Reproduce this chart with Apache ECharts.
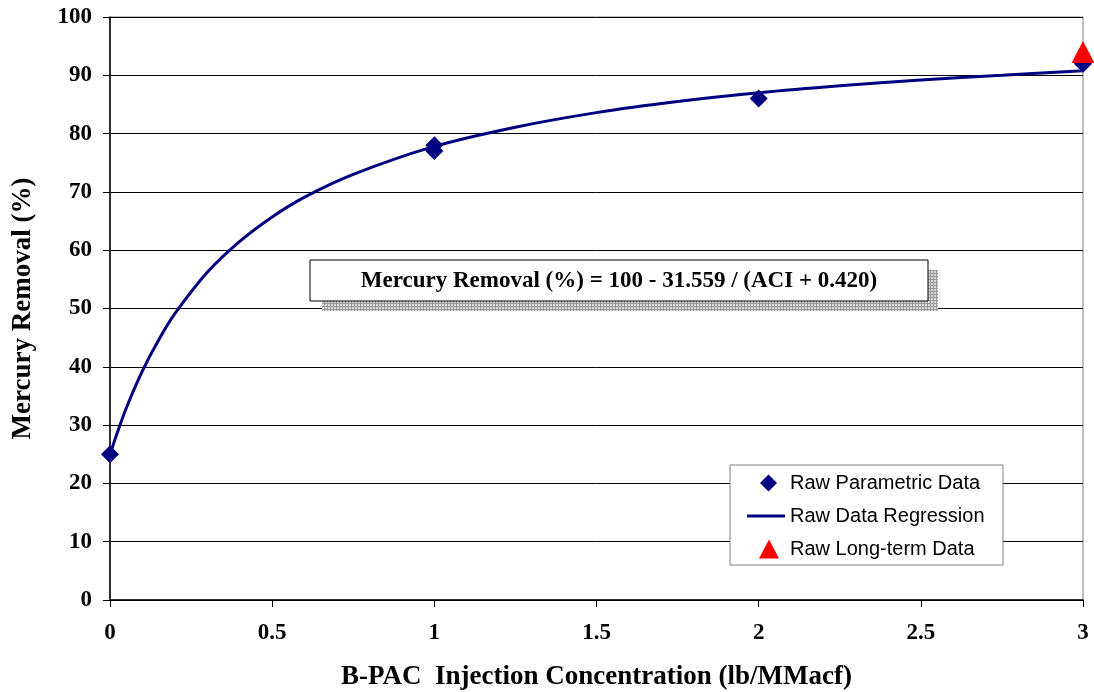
<!DOCTYPE html>
<html>
<head>
<meta charset="utf-8">
<script src="https://cdn.jsdelivr.net/npm/echarts@6/dist/echarts.min.js"></script>
<style>
  html, body { margin: 0; padding: 0; background: #fff; }
  #chart { width: 1094px; height: 692px; }
</style>
</head>
<body>
<div id="chart"></div>
<script>
// Parametric test points: [injection concentration, removal %]
const parametricData = [[0, 25], [1, 77], [1, 78], [2, 86], [3, 92]];
// Long-term test point
const longTermData = [[3, 94]];
// Regression curve, sampled along its drawn path
const regressionX = [0, 0.02, 0.05, 0.1, 0.15, 0.2, 0.3, 0.4, 0.5, 0.6, 0.75, 1, 1.25, 1.5, 1.75, 2, 2.25, 2.5, 2.75, 3];
const regressionY = [24.9, 28.3, 32.9, 39.3, 44.6, 49.1, 56.2, 61.5, 65.7, 69.1, 73.0, 77.8, 81.1, 83.6, 85.5, 87.0, 88.2, 89.2, 90.0, 90.8];
const xTicks = [0, 0.5, 1, 1.5, 2, 2.5, 3];
const yTicks = [0, 10, 20, 30, 40, 50, 60, 70, 80, 90, 100];
const equationText = 'Mercury Removal (%) = 100 - 31.559 / (ACI + 0.420)';
const seriesNames = ['Raw Parametric Data', 'Raw Data Regression', 'Raw Long-term Data'];

const regressionData = regressionX.map((x, i) => [x, regressionY[i]]);

// small cross-hatch tile for the equation box shadow
const tile = document.createElement('canvas');
tile.width = 3; tile.height = 3;
const tctx = tile.getContext('2d');
tctx.fillStyle = '#d8d8d8';
tctx.fillRect(0, 0, 3, 3);
tctx.fillStyle = '#9a9a9a';
tctx.fillRect(0, 0, 3, 1);
tctx.fillRect(0, 0, 1, 3);

const serif = '"Liberation Serif", "Times New Roman", serif';
const sans = '"Liberation Sans", Arial, sans-serif';
const navy = '#000080';

// one legend entry per component so each icon keeps its own size
function legendEntry(name, left, top, icon, w, h, textPadLeft) {
  return {
    orient: 'vertical',
    left: left, top: top,
    padding: 0,
    itemWidth: w, itemHeight: h,
    icon: icon,
    textStyle: { fontFamily: sans, fontSize: 20, color: '#000', padding: [0, 0, 0, textPadLeft] },
    data: [name],
    z: 20
  };
}

const chart = echarts.init(document.getElementById('chart'));
chart.setOption({
  animation: false,
  backgroundColor: '#ffffff',
  grid: {
    left: 110, right: 11, top: 17, bottom: 92,
    outerBoundsMode: 'none',
    containLabel: false,
    show: true, borderColor: '#808080', borderWidth: 1, backgroundColor: 'transparent'
  },
  xAxis: {
    type: 'value',
    min: xTicks[0], max: xTicks[xTicks.length - 1], interval: 0.5,
    name: 'B-PAC  Injection Concentration (lb/MMacf)',
    nameLocation: 'middle', nameGap: 64,
    nameTextStyle: { fontFamily: serif, fontWeight: 'bold', fontSize: 27, color: '#000' },
    axisLine: { show: true, lineStyle: { color: '#000', width: 1.5 } },
    axisTick: { show: true, inside: false, length: 7, lineStyle: { color: '#000' } },
    axisLabel: { margin: 22, fontFamily: serif, fontWeight: 'bold', fontSize: 23, color: '#000',
      formatter: v => String(v) },
    splitLine: { show: false }
  },
  yAxis: {
    type: 'value',
    min: yTicks[0], max: yTicks[yTicks.length - 1], interval: 10,
    name: 'Mercury Removal (%)',
    nameLocation: 'middle', nameGap: 73, nameRotate: 90,
    nameTextStyle: { fontFamily: serif, fontWeight: 'bold', fontSize: 27, color: '#000' },
    axisLine: { show: true, lineStyle: { color: '#000', width: 1.5 } },
    axisTick: { show: true, inside: false, length: 7, lineStyle: { color: '#000' } },
    axisLabel: { margin: 18, fontFamily: serif, fontWeight: 'bold', fontSize: 23, color: '#000' },
    splitLine: { show: true, lineStyle: { color: '#000', width: 1 } }
  },
  legend: [
    legendEntry(seriesNames[0], 760, 473, 'diamond', 17, 17, 8),
    legendEntry(seriesNames[1], 747, 506, 'rect', 38, 3, 0),
    legendEntry(seriesNames[2], 759, 539, 'triangle', 20, 19, 6)
  ],
  series: [
    {
      name: seriesNames[0],
      type: 'scatter',
      data: parametricData,
      symbol: 'diamond',
      symbolSize: 18,
      itemStyle: { color: navy, opacity: 1 },
      z: 4
    },
    {
      name: seriesNames[1],
      type: 'line',
      data: regressionData,
      smooth: 0.3,
      showSymbol: false,
      symbol: 'none',
      lineStyle: { color: navy, width: 3 },
      itemStyle: { color: navy },
      z: 3
    },
    {
      name: seriesNames[2],
      type: 'scatter',
      data: longTermData,
      symbol: 'triangle',
      symbolSize: [23, 22],
      itemStyle: { color: '#ff0000', opacity: 1 },
      z: 5
    }
  ],
  graphic: [
    {
      type: 'rect', z: 10,
      shape: { x: 322, y: 270, width: 616, height: 41 },
      style: { fill: { image: tile, repeat: 'repeat' } }
    },
    {
      type: 'rect', z: 11,
      shape: { x: 310, y: 260, width: 618, height: 41 },
      style: { fill: '#fff', stroke: '#000', lineWidth: 1 }
    },
    {
      type: 'text', z: 12,
      x: 619, y: 281,
      style: {
        text: equationText,
        fontFamily: serif, fontWeight: 'bold', fontSize: 23, fill: '#000',
        align: 'center', verticalAlign: 'middle'
      }
    },
    {
      // legend frame
      type: 'rect', z: 15,
      shape: { x: 730, y: 465, width: 273, height: 100 },
      style: { fill: '#fff', stroke: '#808080', lineWidth: 1 }
    }
  ]
});
</script>
</body>
</html>
